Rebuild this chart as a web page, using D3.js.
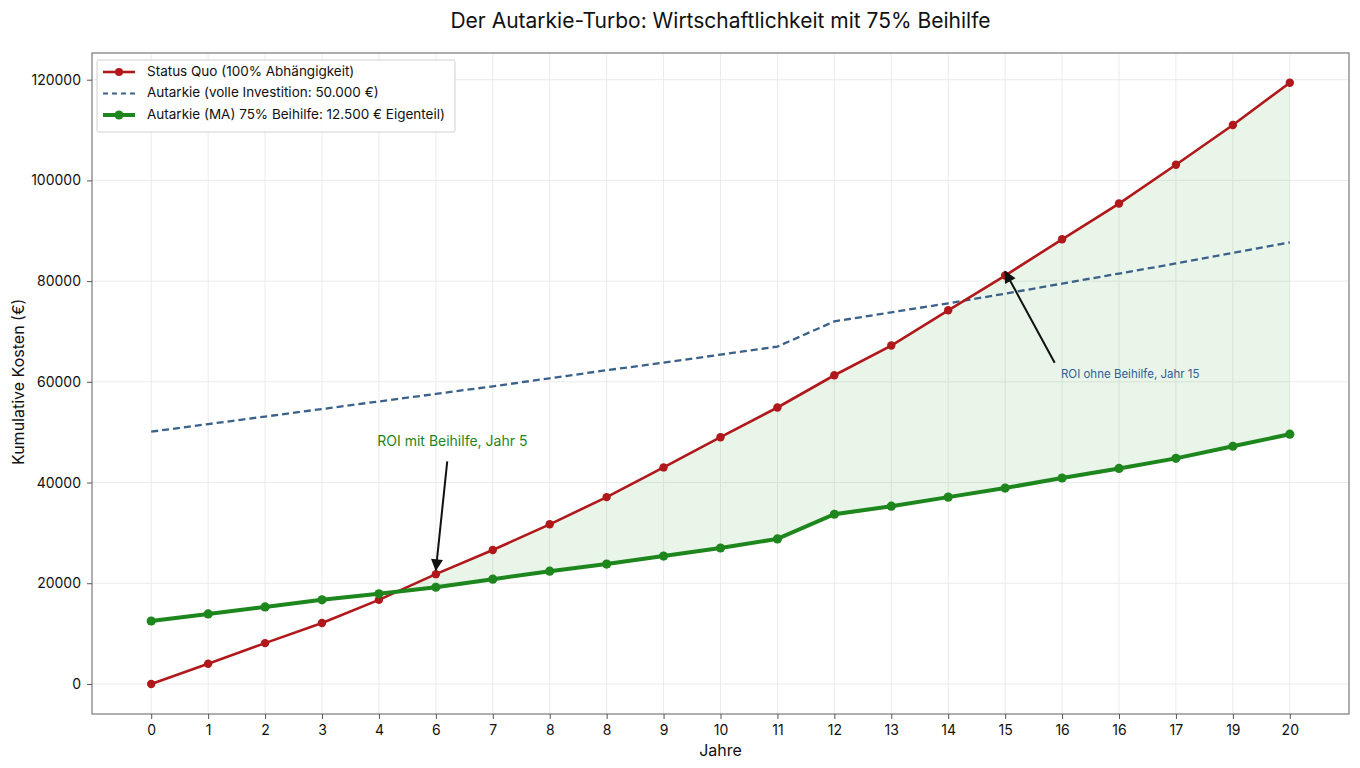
<!DOCTYPE html>
<html>
<head>
<meta charset="utf-8">
<script src="https://cdn.jsdelivr.net/npm/d3@7"></script>
<style>
  body { margin: 0; background: #fff; }
  text { font-family: Inter, "Open Sans", sans-serif; fill: #111; }
</style>
</head>
<body>
<div id="container"></div>
<script>
// data
const years = d3.range(0, 21);
const xLabels = ['0','1','2','3','4','6','7','8','8','9','10','11','12','13','14','15','16','16','17','19','20'];
const statusQuo = [0, 4000, 8100, 12100, 16700, 21800, 26600, 31700, 37100, 43000, 49000,
                   54900, 61300, 67200, 74200, 81100, 88300, 95400, 103100, 111000, 119400];
const autarkieVoll = [50100, 51600, 53100, 54600, 56100, 57600, 59100, 60700, 62300, 63800, 65400,
                      67000, 72000, 73800, 75600, 77500, 79500, 81500, 83500, 85600, 87700];
const autarkieMA = [12500, 13900, 15300, 16700, 17900, 19200, 20800, 22400, 23800, 25400, 27000,
                    28800, 33700, 35300, 37100, 38900, 40900, 42800, 44800, 47200, 49600];
const yTicks = [0, 20000, 40000, 60000, 80000, 100000, 120000];
const legendLabels = [
    'Status Quo (100% Abhängigkeit)',
    'Autarkie (volle Investition: 50.000 €)',
    'Autarkie (MA) 75% Beihilfe: 12.500 € Eigenteil)'
];

const width = 1360, height = 768;
const margin = { top: 53, right: 11, bottom: 54, left: 92 };
const iw = width - margin.left - margin.right;
const ih = height - margin.top - margin.bottom;

const svg = d3.select('#container')
    .append('svg')
    .attr('width', width)
    .attr('height', height);

const x = d3.scaleLinear().domain([-1.04, 21.04]).range([0, iw]);
const y = d3.scaleLinear().domain([-5970, 125300]).range([ih, 0]);

const g = svg.append('g').attr('transform', `translate(${margin.left},${margin.top})`);

// grid
g.append('g').selectAll('line').data(years).join('line')
    .attr('x1', d => x(d)).attr('x2', d => x(d))
    .attr('y1', 0).attr('y2', ih)
    .attr('stroke', '#ebebeb').attr('stroke-width', 1);
g.append('g').selectAll('line').data(yTicks).join('line')
    .attr('x1', 0).attr('x2', iw)
    .attr('y1', d => y(d)).attr('y2', d => y(d))
    .attr('stroke', '#ebebeb').attr('stroke-width', 1);

// fill between red and green where red is above, with crossing points
const fillPts = [];
for (let i = 0; i < years.length; i++) {
    const diff = statusQuo[i] - autarkieMA[i];
    if (i > 0) {
        const prev = statusQuo[i - 1] - autarkieMA[i - 1];
        if ((prev < 0 && diff > 0) || (prev > 0 && diff < 0)) {
            const t = prev / (prev - diff);
            const xc = years[i - 1] + t;
            const yc = autarkieMA[i - 1] + t * (autarkieMA[i] - autarkieMA[i - 1]);
            fillPts.push({ x: xc, lo: yc, hi: yc });
        }
    }
    fillPts.push({ x: years[i], lo: autarkieMA[i], hi: Math.max(statusQuo[i], autarkieMA[i]) });
}
g.append('path')
    .datum(fillPts)
    .attr('fill', 'rgb(60,160,60)').attr('fill-opacity', 0.11)
    .attr('d', d3.area().x(d => x(d.x)).y0(d => y(d.lo)).y1(d => y(d.hi)));

const line = d3.line().x((d, i) => x(years[i])).y(d => y(d));

// blue dashed
g.append('path').datum(autarkieVoll)
    .attr('fill', 'none').attr('stroke', '#3a6189').attr('stroke-width', 2.3)
    .attr('stroke-dasharray', '7,4')
    .attr('d', line);

// red
g.append('path').datum(statusQuo)
    .attr('fill', 'none').attr('stroke', '#b0181b').attr('stroke-width', 2.6)
    .attr('d', line);
g.append('g').selectAll('circle').data(statusQuo).join('circle')
    .attr('cx', (d, i) => x(years[i])).attr('cy', d => y(d)).attr('r', 4.2)
    .attr('fill', '#b0181b');

// green
g.append('path').datum(autarkieMA)
    .attr('fill', 'none').attr('stroke', '#1d861d').attr('stroke-width', 4)
    .attr('d', line);
g.append('g').selectAll('circle').data(autarkieMA).join('circle')
    .attr('cx', (d, i) => x(years[i])).attr('cy', d => y(d)).attr('r', 4.6)
    .attr('fill', '#1d861d');

// frame
g.append('rect').attr('width', iw).attr('height', ih)
    .attr('fill', 'none').attr('stroke', '#7a7a7a').attr('stroke-width', 1.2);

// axes
const xAxis = d3.axisBottom(x).tickValues(years).tickFormat((d, i) => xLabels[i]).tickSize(5).tickPadding(6);
const gx = g.append('g').attr('transform', `translate(0,${ih})`).call(xAxis);
const yAxis = d3.axisLeft(y).tickValues(yTicks).tickFormat(d => String(d)).tickSize(5).tickPadding(6);
const gy = g.append('g').call(yAxis);
[gx, gy].forEach(a => {
    a.select('.domain').remove();
    a.selectAll('.tick line').attr('stroke', '#555');
    a.selectAll('.tick text').attr('font-size', 14).attr('fill', '#222')
        .attr('font-family', 'Inter, sans-serif');
});

// arrows
const defs = svg.append('defs');
defs.append('marker').attr('id', 'arr')
    .attr('viewBox', '0 0 10 10').attr('refX', 9).attr('refY', 5)
    .attr('markerWidth', 16).attr('markerHeight', 12).attr('orient', 'auto')
    .attr('markerUnits', 'userSpaceOnUse')
    .append('path').attr('d', 'M0,0 L10,5 L0,10 z').attr('fill', '#111');

const annots = [
    { text: 'ROI mit Beihilfe, Jahr 5', tx: 5.29, ty: 48000, ax: 5.2, ay: 44200, idx: 5,
      color: '#1d861d', anchor: 'middle', size: 14 },
    { text: 'ROI ohne Beihilfe, Jahr 15', tx: 15.98, ty: 61300, ax: 15.87, ay: 63800, idx: 15,
      color: '#2f5f94', anchor: 'start', size: 11.5 }
];
annots.forEach(a => {
    g.append('line')
        .attr('x1', x(a.ax)).attr('y1', y(a.ay))
        .attr('x2', x(years[a.idx])).attr('y2', y(statusQuo[a.idx]) - 4)
        .attr('stroke', '#111').attr('stroke-width', 2)
        .attr('marker-end', 'url(#arr)');
    g.append('text')
        .attr('x', x(a.tx)).attr('y', y(a.ty))
        .attr('text-anchor', a.anchor)
        .attr('dominant-baseline', 'middle')
        .attr('font-size', a.size)
        .style('fill', a.color)
        .text(a.text);
});

// legend
const lg = g.append('g').attr('transform', 'translate(5,7)');
lg.append('rect').attr('width', 358).attr('height', 72).attr('rx', 2)
    .attr('fill', '#fff').attr('fill-opacity', 0.9)
    .attr('stroke', '#d0d0d0');
const legendStyles = [
    { color: '#b0181b', w: 2.6, dash: null, marker: 4 },
    { color: '#3a6189', w: 2, dash: '5,4', marker: 0 },
    { color: '#1d861d', w: 4, dash: null, marker: 4.5 }
];
legendLabels.forEach((lab, i) => {
    const st = legendStyles[i];
    const yy = 12 + i * 21.5;
    lg.append('line').attr('x1', 6).attr('x2', 38).attr('y1', yy).attr('y2', yy)
        .attr('stroke', st.color).attr('stroke-width', st.w)
        .attr('stroke-dasharray', st.dash);
    if (st.marker) lg.append('circle').attr('cx', 22).attr('cy', yy).attr('r', st.marker).attr('fill', st.color);
    lg.append('text').attr('x', 50).attr('y', yy).attr('dominant-baseline', 'middle')
        .attr('font-size', 13.5).text(lab);
});

// titles
svg.append('text').attr('x', margin.left + iw / 2).attr('y', 28)
    .attr('text-anchor', 'middle').attr('font-size', 21).text('Der Autarkie-Turbo: Wirtschaftlichkeit mit 75% Beihilfe');
svg.append('text').attr('x', margin.left + iw / 2).attr('y', 756)
    .attr('text-anchor', 'middle').attr('font-size', 16).text('Jahre');
svg.append('text').attr('transform', `translate(24,${margin.top + y(60000)}) rotate(-90)`)
    .attr('text-anchor', 'middle').attr('font-size', 16).text('Kumulative Kosten (€)');
</script>
</body>
</html>
